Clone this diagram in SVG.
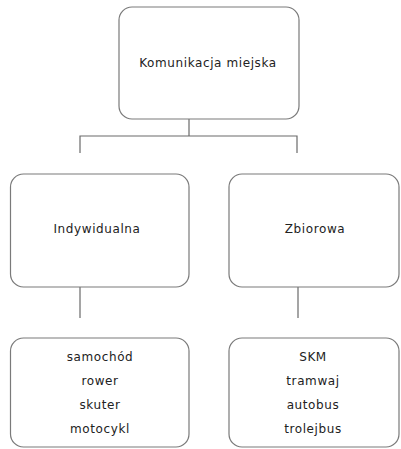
<svg xmlns="http://www.w3.org/2000/svg" width="401" height="449" viewBox="0 0 401 449">
<style>
.box{fill:#fff;stroke:#7a7a7a;stroke-width:1.2}
.ln{fill:none;stroke:#6a6a6a;stroke-width:1.2}
text{font-family:"DejaVu Sans",Verdana,sans-serif;font-size:12px;fill:#222;text-anchor:middle;letter-spacing:0.6px}
</style>
<rect width="401" height="449" fill="#fff"/>
<g id="connectors">
<path class="ln" d="M189 119V136M80 153V136H297V153"/>
<path class="ln" d="M80 287V318M298 287V318"/>
</g>
<g id="komunikacja">
<rect class="box" x="119" y="7" width="180" height="112" rx="13"/>
<text x="208" y="67">Komunikacja miejska</text>
</g>
<g id="indywidualna">
<rect class="box" x="10.5" y="174" width="178.5" height="113" rx="13"/>
<text x="97" y="233">Indywidualna</text>
</g>
<g id="zbiorowa">
<rect class="box" x="229" y="174" width="170" height="113" rx="13"/>
<text x="315" y="233">Zbiorowa</text>
</g>
<g id="indywidualna-list">
<rect class="box" x="10.5" y="338" width="178.5" height="109" rx="13"/>
<text x="100" y="361">samochód</text>
<text x="100" y="385">rower</text>
<text x="100" y="409">skuter</text>
<text x="100" y="433">motocykl</text>
</g>
<g id="zbiorowa-list">
<rect class="box" x="229" y="338" width="170" height="109" rx="13"/>
<text x="313" y="361">SKM</text>
<text x="313" y="385">tramwaj</text>
<text x="313" y="409">autobus</text>
<text x="313" y="433">trolejbus</text>
</g>
</svg>
